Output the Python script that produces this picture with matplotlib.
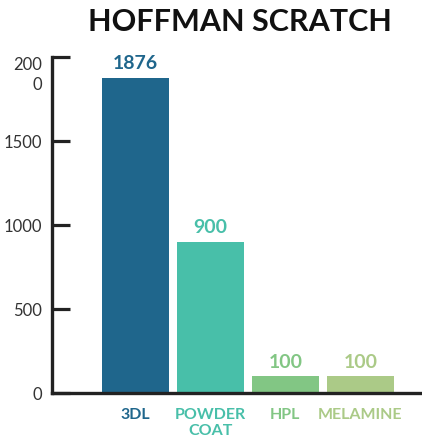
import matplotlib
matplotlib.use('Agg')
import matplotlib.pyplot as plt

# data
categories = ['3DL', 'POWDER\nCOAT', 'HPL', 'MELAMINE']
values = [1876, 900, 100, 100]
colors = ['#1f668c', '#48bfa9', '#82c684', '#abca87']
yticks = [0, 500, 1000, 1500, 2000]
ytick_labels = ['0', '500', '1000', '1500', '200\n0']

plt.rcParams['font.family'] = ['Lato', 'DejaVu Sans']

fig = plt.figure(figsize=(4.22, 4.41), dpi=100)
ax = fig.add_axes([52 / 422, 48 / 441, 1 - 52 / 422, 336 / 441])

x = list(range(len(values)))
ax.bar(x, values, width=0.893, color=colors)

for xi, v, c in zip(x, values, colors):
    ax.annotate(str(v), (xi, v), xytext=(0, 4), textcoords='offset points',
                ha='center', va='bottom', fontsize=14, fontweight='bold', color=c)

ax.set_xlim(-1.11, 3.82)
ax.set_ylim(0, 2000)

ax.set_xticks(x)
ax.set_xticklabels(categories, fontsize=11.5, fontweight='bold', linespacing=1.2)
for lbl, c in zip(ax.get_xticklabels(), colors):
    lbl.set_color(c)
ax.tick_params(axis='x', length=0, pad=11)

ax.set_yticks(yticks)
ax.set_yticklabels(ytick_labels, fontsize=12, color='#333333', fontweight='normal',
                   linespacing=1.3)
ax.get_yticklabels()[-1].set_va('top')
ax.tick_params(axis='y', direction='in', length=13, width=2.3, color='#222222', pad=7)

for s in ['top', 'right']:
    ax.spines[s].set_visible(False)
for s in ['left', 'bottom']:
    ax.spines[s].set_linewidth(2.4)
    ax.spines[s].set_color('#222222')

fig.text(0.569, 0.95, 'HOFFMAN SCRATCH', ha='center', va='center',
         fontsize=22, fontweight='bold', color='#111111')

fig.savefig('out.png', dpi=100)
